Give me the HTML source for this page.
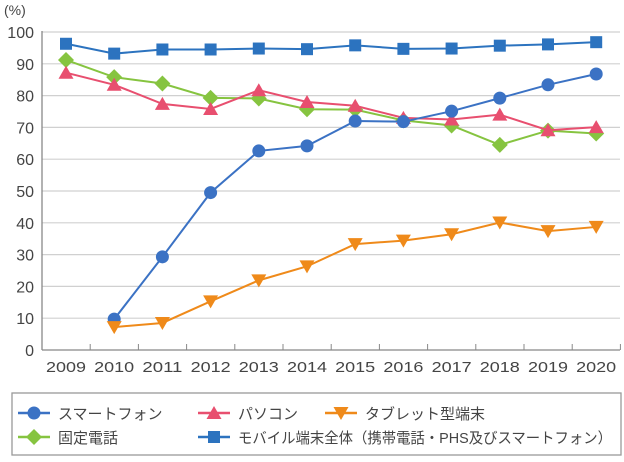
<!DOCTYPE html>
<html><head><meta charset="utf-8"><style>
html,body{margin:0;padding:0;background:#fff;width:624px;height:462px;overflow:hidden}
svg text{font-family:"Liberation Sans","Noto Sans CJK JP",sans-serif;fill:#444}
</style></head><body>
<svg id="c" width="624" height="462" xmlns="http://www.w3.org/2000/svg"></svg>
<script>
const s=document.getElementById('c');let h='';
const Y=v=>350-v*3.18, X=i=>66+i*48.2;
for(let v=10;v<=100;v+=10)h+=`<line x1="42" x2="620" y1="${Y(v)}" y2="${Y(v)}" stroke="#d0d0d0" stroke-width="1.2"/>`;
for(let v=0;v<=100;v+=10)h+=`<text x="34" y="${Y(v)+6}" font-size="16" text-anchor="end">${v}</text>`;
h+=`<text x="4" y="15" font-size="14">(%)</text>`;
h+=`<line x1="42" x2="42" y1="31" y2="350" stroke="#888" stroke-width="1.3"/><line x1="42" x2="620" y1="350" y2="350" stroke="#888" stroke-width="1.3"/>`;
for(let i=0;i<=12;i++)h+=`<line x1="${42+i*48.2}" x2="${42+i*48.2}" y1="344" y2="350" stroke="#888"/>`;
for(let i=0;i<12;i++)h+=`<text x="${X(i)}" y="372" font-size="15" text-anchor="middle" textLength="40" lengthAdjust="spacingAndGlyphs">${2009+i}</text>`;
function mk(t,x,y,c){
 if(t=='o')return `<circle cx="${x}" cy="${y}" r="6.5" fill="${c}"/>`;
 if(t=='s')return `<rect x="${x-6}" y="${y-6}" width="12" height="12" fill="${c}"/>`;
 if(t=='t')return `<polygon points="${x},${y-7} ${x+7.5},${y+6} ${x-7.5},${y+6}" fill="${c}"/>`;
 if(t=='v')return `<polygon points="${x},${y+7} ${x+7.5},${y-6} ${x-7.5},${y-6}" fill="${c}"/>`;
 if(t=='d')return `<polygon points="${x},${y-8} ${x+8},${y} ${x},${y+8} ${x-8},${y}" fill="${c}"/>`;
}
function ser(d,st,t,c){let p=[];d.forEach((v,i)=>{if(v!=null)p.push([X(i+st),Y(v)])});
 h+=`<polyline points="${p.map(q=>q.join(',')).join(' ')}" fill="none" stroke="${c}" stroke-width="2"/>`;
 p.forEach(q=>h+=mk(t,q[0],q[1],c));}
ser([91.2,85.8,83.8,79.3,79.1,75.7,75.6,72.2,70.6,64.5,69.0,68.1],0,'d','#86c440');
ser([87.2,83.4,77.4,75.8,81.7,78.0,76.8,73.0,72.5,74.0,69.1,70.1],0,'t','#e84f6f');
ser([96.3,93.2,94.5,94.5,94.8,94.6,95.8,94.7,94.8,95.7,96.1,96.8],0,'s','#2c73bf');
ser([9.7,29.3,49.5,62.6,64.2,72.0,71.8,75.1,79.2,83.4,86.8],1,'o','#3b72c4');
ser([7.2,8.5,15.3,21.9,26.3,33.3,34.4,36.4,40.1,37.4,38.7],1,'v','#ef8a1a');
h+=`<rect x="12" y="393" width="609" height="62" fill="none" stroke="#999" stroke-width="1.3"/>`;
function lg(x,y,t,c,lab,tl){h+=`<line x1="${x}" x2="${x+32}" y1="${y}" y2="${y}" stroke="${c}" stroke-width="2.5"/>`+mk(t,x+16,y,c)+`<text x="${x+40}" y="${y+6}" font-size="15"${tl?` textLength="${tl}" lengthAdjust="spacingAndGlyphs"`:''}>${lab}</text>`;}
lg(18,413,'o','#3b72c4','スマートフォン');
lg(198,413,'t','#e84f6f','パソコン');
lg(325,413,'v','#ef8a1a','タブレット型端末');
lg(18,437,'d','#86c440','固定電話');
lg(198,437,'s','#2c73bf','モバイル端末全体（携帯電話・PHS及びスマートフォン）',374);
s.innerHTML=h;
</script>
</body></html>
